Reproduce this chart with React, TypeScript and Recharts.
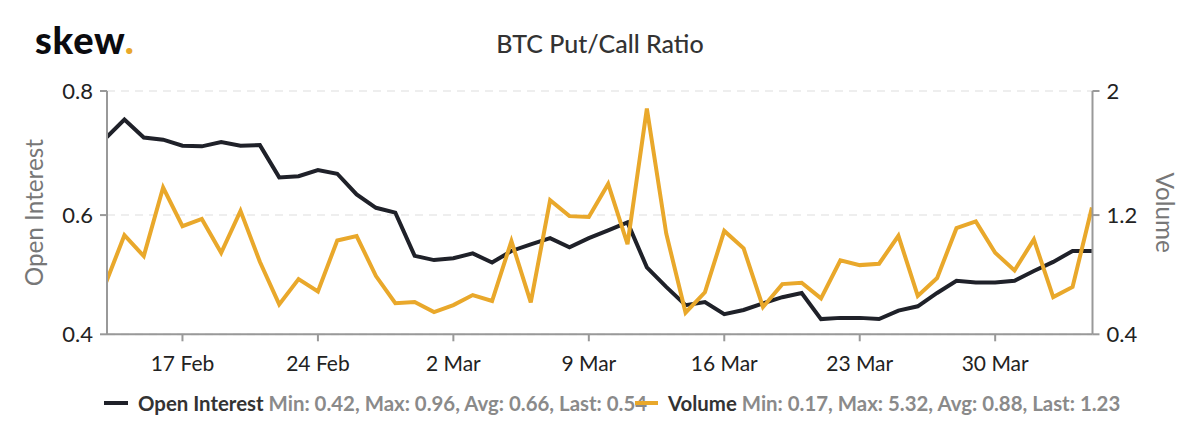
import { LineChart, Line, XAxis, YAxis, CartesianGrid, Legend } from 'recharts'

const FONT = 'Lato, sans-serif'

// whole days counted from 17 Feb, one entry per point
const days = [
  -4, -3, -2, -1, 0, 1, 2, 3, 4, 5, 6, 7, 8, 9, 10, 11, 12, 13, 14, 15, 16, 17, 18, 19, 20, 21,
  22, 23, 24, 25, 26, 27, 28, 29, 30, 31, 32, 33, 34, 35, 36, 37, 38, 39, 40, 41, 42, 43, 44, 45, 46, 47,
]

const openInterest = [
  0.7215, 0.753, 0.7235, 0.72, 0.71, 0.709, 0.716, 0.71, 0.711, 0.658, 0.66, 0.67, 0.664,
  0.63, 0.608, 0.6, 0.529, 0.522, 0.525, 0.533, 0.518, 0.537, 0.548, 0.558, 0.543, 0.558,
  0.571, 0.584, 0.51, 0.478, 0.448, 0.453, 0.433, 0.44, 0.451, 0.461, 0.468, 0.425, 0.427,
  0.427, 0.425, 0.439, 0.446, 0.468, 0.488, 0.485, 0.485, 0.488, 0.504, 0.519, 0.537, 0.537,
]

const volume = [
  0.724, 1.052, 0.914, 1.365, 1.111, 1.159, 0.936, 1.212, 0.877, 0.597, 0.763, 0.682, 1.017,
  1.046, 0.783, 0.604, 0.612, 0.546, 0.592, 0.658, 0.619, 1.013, 0.61, 1.282, 1.177, 1.172,
  1.389, 0.993, 1.884, 1.063, 0.542, 0.676, 1.08, 0.965, 0.579, 0.73, 0.739, 0.636, 0.886,
  0.855, 0.864, 1.048, 0.652, 0.77, 1.098, 1.142, 0.936, 0.82, 1.024, 0.645, 0.711, 1.234,
]

const xTicks = [0, 7, 14, 21, 28, 35, 42]
const xTickLabels = ['17 Feb', '24 Feb', '2 Mar', '9 Mar', '16 Mar', '23 Mar', '30 Mar']

const leftTicks = [0.4, 0.596, 0.8]
const rightTicks = [0.4, 1.184, 2]

const openInterestStats = 'Min: 0.42, Max: 0.96, Avg: 0.66, Last: 0.54'
const volumeStats = 'Min: 0.17, Max: 5.32, Avg: 0.88, Last: 1.23'

const BLACK = '#1f2129'
const ORANGE = '#e9a82b'
const AXIS = '#999999'

const rows = days.map((day, i) => ({ day, openInterest: openInterest[i], volume: volume[i] }))

function LegendItem({ left, swatchWidth, textLeft, color, name, stats }: {
  left: number; swatchWidth: number; textLeft: number; color: string; name: string; stats: string
}) {
  return (
    <>
      <div style={{ position: 'absolute', left, top: 22, width: swatchWidth, height: 4, background: color }} />
      <div style={{ position: 'absolute', left: textLeft, top: 12, whiteSpace: 'nowrap', fontSize: 20.4, fontWeight: 700, lineHeight: '24px' }}>
        <span style={{ color: '#333333' }}>{name}</span>{' '}
        <span style={{ color: '#8a8a8a' }}>{stats}</span>
      </div>
    </>
  )
}

function ChartLegend() {
  return (
    <div style={{ position: 'relative', width: 1200, height: 50, fontFamily: FONT }}>
      <LegendItem left={104} swatchWidth={24} textLeft={138} color={BLACK} name="Open Interest" stats={openInterestStats} />
      <LegendItem left={635} swatchWidth={23} textLeft={668} color={ORANGE} name="Volume" stats={volumeStats} />
    </div>
  )
}

export default function App() {
  const tickLine = { stroke: AXIS, strokeWidth: 2 }
  const yTick = { fontSize: 22, fill: '#222222', fontFamily: FONT }
  return (
    <div style={{ position: 'absolute', left: 0, top: 0, width: 1200, height: 447, background: '#ffffff', fontFamily: FONT }}>
      <div style={{ position: 'absolute', left: 35, top: 14, fontSize: 38, fontWeight: 900, color: '#0b0b0f', lineHeight: '50px', letterSpacing: 0.8 }}>
        skew<span style={{ color: ORANGE }}>.</span>
      </div>
      <div style={{ position: 'absolute', left: 0, top: 28, width: 1200, textAlign: 'center', fontSize: 25, fontWeight: 500, color: '#333333', lineHeight: '30px' }}>
        BTC Put/Call Ratio
      </div>
      <LineChart width={1200} height={447} data={rows} margin={{ top: 91, right: 0, bottom: 22.7, left: 0 }}>
        <CartesianGrid yAxisId="left" vertical={false} stroke="#eeeeee" strokeWidth={2} strokeDasharray="8 6" />
        <XAxis
          dataKey="day"
          type="number"
          domain={[-3.9, 47.03]}
          allowDataOverflow
          ticks={xTicks}
          tickFormatter={(d: number) => xTickLabels[xTicks.indexOf(d)]}
          height={40}
          tickSize={7}
          tickMargin={15}
          interval={0}
          axisLine={{ stroke: AXIS, strokeWidth: 2 }}
          tickLine={tickLine}
          tick={{ fontSize: 21, fill: '#222222', fontFamily: FONT }}
        />
        <YAxis
          yAxisId="left"
          width={107}
          domain={[0.4, 0.8]}
          allowDataOverflow
          ticks={leftTicks}
          interval={0}
          tickFormatter={(v: number) => v.toFixed(1)}
          tickSize={7}
          tickMargin={7}
          axisLine={{ stroke: AXIS, strokeWidth: 2 }}
          tickLine={tickLine}
          tick={yTick}
          label={{ value: 'Open Interest', angle: -90, position: 'insideLeft', offset: 34, style: { fontSize: 24.3, fill: '#777777', fontFamily: FONT, textAnchor: 'middle' } }}
        />
        <YAxis
          yAxisId="right"
          orientation="right"
          width={107.5}
          domain={[0.4, 2]}
          allowDataOverflow
          ticks={rightTicks}
          interval={0}
          tickFormatter={(v: number) => (v === 2 ? '2' : v.toFixed(1))}
          tickSize={7}
          tickMargin={7}
          axisLine={{ stroke: AXIS, strokeWidth: 2 }}
          tickLine={tickLine}
          tick={yTick}
          label={{ value: 'Volume', angle: 90, position: 'insideRight', offset: 35, style: { fontSize: 24.3, fill: '#777777', fontFamily: FONT, textAnchor: 'middle' } }}
        />
        <Legend verticalAlign="bottom" content={() => <ChartLegend />} wrapperStyle={{ left: 0, bottom: 18, width: 1200, height: 50 }} />
        <Line yAxisId="left" type="linear" dataKey="openInterest" stroke={BLACK} strokeWidth={4} dot={false} activeDot={false} isAnimationActive={false} />
        <Line yAxisId="right" type="linear" dataKey="volume" stroke={ORANGE} strokeWidth={4} dot={false} activeDot={false} isAnimationActive={false} />
      </LineChart>
    </div>
  )
}
